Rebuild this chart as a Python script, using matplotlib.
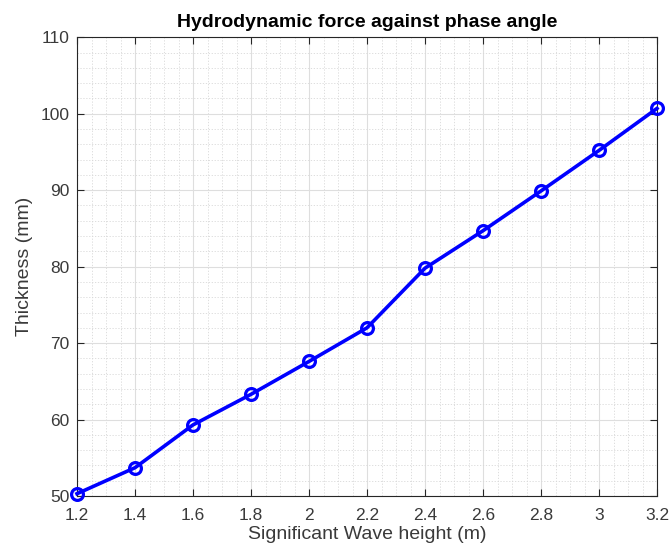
import matplotlib
matplotlib.use("Agg")
import matplotlib.pyplot as plt
from matplotlib.ticker import MultipleLocator, FuncFormatter

wave_height = [1.2, 1.4, 1.6, 1.8, 2.0, 2.2, 2.4, 2.6, 2.8, 3.0, 3.2]
thickness = [50.3, 53.7, 59.3, 63.3, 67.6, 72.0, 79.8, 84.7, 89.9, 95.2, 100.7]
x_ticks = [1.2, 1.4, 1.6, 1.8, 2.0, 2.2, 2.4, 2.6, 2.8, 3.0, 3.2]
y_ticks = [50, 60, 70, 80, 90, 100, 110]

plt.rcParams['font.family'] = ['Liberation Sans', 'DejaVu Sans']
txt = '#3a3a3a'

fig = plt.figure(figsize=(6.7, 5.53), dpi=100)
ax = fig.add_axes([77/670, 57/553, 580/670, 458.7/553])

ax.plot(wave_height, thickness, color='#0000ff', linewidth=2.6, marker='o',
        markersize=8.5, markerfacecolor='none', markeredgewidth=2.3, markeredgecolor='#0000ff',
        zorder=5, clip_on=False)

ax.set_xlim(1.2, 3.2)
ax.set_ylim(50, 110)
ax.set_xticks(x_ticks)
ax.set_yticks(y_ticks)
ax.xaxis.set_major_formatter(FuncFormatter(lambda v, p: f"{v:g}"))
ax.xaxis.set_minor_locator(MultipleLocator(0.05))
ax.yaxis.set_minor_locator(MultipleLocator(2))

ax.grid(True, which='major', color='#dedede', linewidth=0.8, linestyle='-')
ax.grid(True, which='minor', color='#d8d8d8', linewidth=0.6, linestyle=(0, (1.5, 2)))
ax.set_axisbelow(True)

ax.tick_params(which='major', direction='in', length=5, width=0.8, colors='#262626',
               labelcolor=txt, top=True, right=True, labelsize=12.5)
ax.tick_params(axis='x', which='major', pad=9)
ax.tick_params(axis='y', which='major', pad=5.5)
ax.tick_params(which='minor', length=0, top=True, right=True)
for s in ax.spines.values():
    s.set_color('#262626')
    s.set_linewidth(0.8)

ax.set_xlabel('Significant Wave height (m)', fontsize=14, color=txt, labelpad=2)
ax.set_ylabel('Thickness (mm)', fontsize=14, color=txt, labelpad=5)
ax.set_title('Hydrodynamic force against phase angle', fontsize=14, fontweight='bold',
             color='black', pad=7.5)

fig.savefig('out.png', dpi=100, facecolor='white')
